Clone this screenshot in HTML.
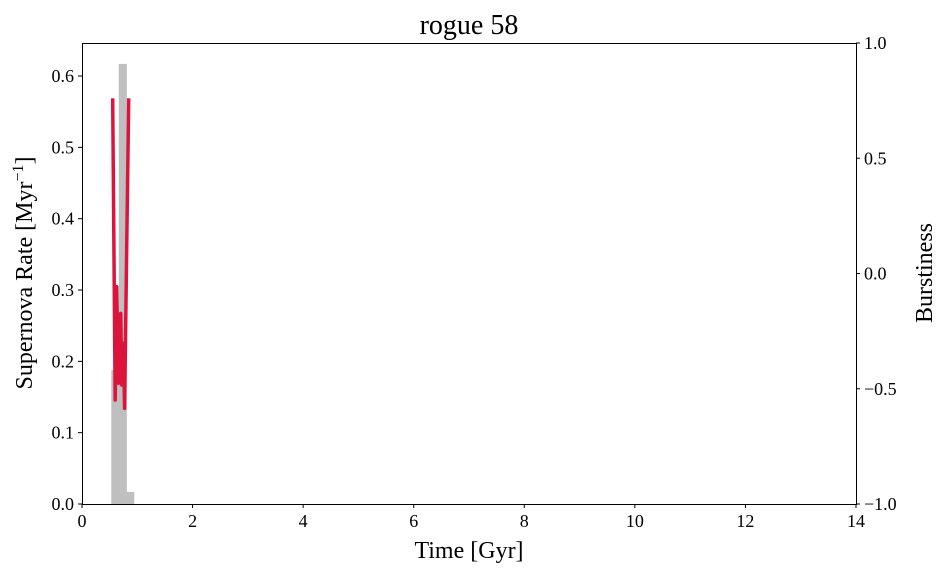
<!DOCTYPE html>
<html><head><meta charset="utf-8"><style>
body{margin:0;background:#fff}
svg{display:block;font-family:"Liberation Serif","DejaVu Serif",serif}
</style></head><body>
<svg id="c" width="947" height="575"></svg>
<script>
const binStarts=[0.53,0.665,0.80];
const binWidth=0.135;
const binRates=[0.188,0.617,0.017];
const burstT=[0.555,0.60,0.627,0.66,0.70,0.72,0.75,0.77,0.845];
const burstV=[0.76,-0.549,-0.057,-0.476,-0.173,-0.484,-0.303,-0.585,0.76];
const xTicks=[0,2,4,6,8,10,12,14];
const yTicks=[0.0,0.1,0.2,0.3,0.4,0.5,0.6];
const y2Ticks=[-1.0,-0.5,0.0,0.5,1.0];
const L=82,R=856,T=43,B=504;
const X=v=>L+(v/14)*(R-L);
const Y=v=>B-(v/0.6463)*(B-T);
const Y2=v=>B-((v+1)/2)*(B-T);
const s=document.getElementById('c');const NS='http://www.w3.org/2000/svg';
function el(t,a,txt){const e=document.createElementNS(NS,t);for(const k in a)e.setAttribute(k,a[k]);if(txt!==undefined)e.textContent=txt;s.appendChild(e);return e;}
binRates.forEach((r,i)=>{const e=el('rect',{x:X(binStarts[i]),y:Y(r),width:X(binWidth)-X(0)+0.6,height:B-Y(r),fill:'#bfbfbf'});

});
const p=el('polyline',{points:burstT.map((t,i)=>X(t)+','+Y2(burstV[i])).join(' '),fill:'none',stroke:'#dc143c','stroke-width':3.5,'stroke-linejoin':'round'});


const f=el('rect',{x:L+0.5,y:T+0.5,width:R-L,height:B-T,fill:'none',stroke:'#000','stroke-width':1});


xTicks.forEach(v=>{el('line',{x1:X(v),x2:X(v),y1:B,y2:B+4,stroke:'#000'});
const t=el('text',{x:X(v),y:B+23,'font-size':18,'text-anchor':'middle'},String(v));

});
yTicks.forEach(v=>{el('line',{x1:L-4,x2:L,y1:Y(v),y2:Y(v),stroke:'#000'});
const t=el('text',{x:L-8,y:Y(v)+6,'font-size':18,'text-anchor':'end'},v.toFixed(1));

});
y2Ticks.forEach(v=>{el('line',{x1:R,x2:R+4,y1:Y2(v),y2:Y2(v),stroke:'#000'});
const t=el('text',{x:R+8,y:Y2(v)+6,'font-size':18,'text-anchor':'start'},(v<0?'\u2212':'')+Math.abs(v).toFixed(1));

});
</script>
<svg style="position:absolute;left:0;top:0" width="947" height="575">
<text x="469" y="34" font-size="28" text-anchor="middle">rogue 58</text>
<text x="469" y="558" font-size="24" text-anchor="middle">Time [Gyr]</text>
<text transform="translate(32,273) rotate(-90)" font-size="24" text-anchor="middle">Supernova Rate [Myr<tspan dy="-9" font-size="16">−1</tspan><tspan dy="9">]</tspan></text>
<text transform="translate(932,273) rotate(-90)" font-size="24" text-anchor="middle">Burstiness</text>
</svg>
</body></html>
